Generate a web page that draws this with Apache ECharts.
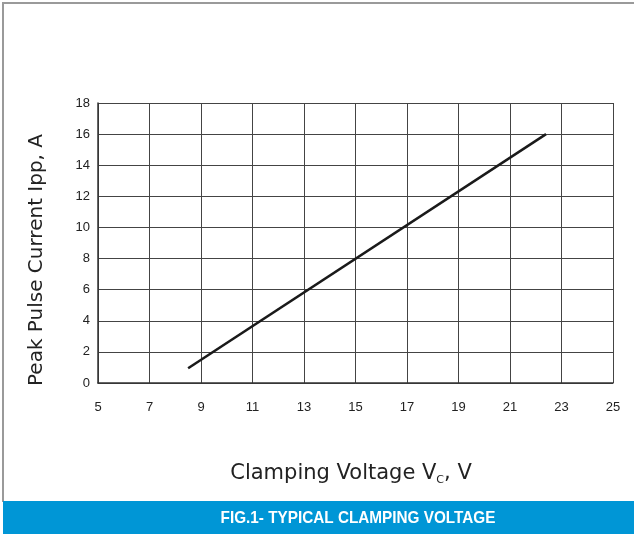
<!DOCTYPE html>
<html><head><meta charset="utf-8">
<script src="https://cdn.jsdelivr.net/npm/echarts@6/dist/echarts.min.js"></script>
<style>html,body{margin:0;padding:0;background:#fff}#c{width:634px;height:534px}</style>
</head><body><div id="c"></div>
<script>
const xTicks = [5,7,9,11,13,15,17,19,21,23,25];
const yTicks = [0,2,4,6,8,10,12,14,16,18];
const lineX = [8.5, 22.4];
const lineY = [0.95, 16];
const xTitle = 'Clamping Voltage V';
const xTitleSub = 'C';
const xTitleTail = ', V';
const yTitle = 'Peak Pulse Current Ipp, A';
const figTitle = 'FIG.1- TYPICAL CLAMPING VOLTAGE';

const chart = echarts.init(document.getElementById('c'), null, {renderer:'canvas'});
const tickFont = '"Liberation Sans Narrow", "Arial Narrow", "Liberation Sans", Arial, sans-serif';
const titleFont = '"DejaVu Sans", "Liberation Sans", Arial, sans-serif';
chart.setOption({
  animation:false,
  backgroundColor:'#fff',
  grid:{left:98, right:21, top:103, bottom:151, containLabel:false},
  xAxis:{type:'value', min:xTicks[0], max:xTicks[xTicks.length-1], interval:2,
    axisLine:{show:true, lineStyle:{color:'#333', width:1.5}}, axisTick:{show:false},
    splitLine:{show:true, lineStyle:{color:'#444', width:1}},
    axisLabel:{color:'#222', fontSize:13, fontFamily:tickFont, margin:18}
  },
  yAxis:{type:'value', min:yTicks[0], max:yTicks[yTicks.length-1], interval:2,
    axisLine:{show:true, lineStyle:{color:'#333', width:1.5}}, axisTick:{show:false},
    splitLine:{show:true, lineStyle:{color:'#444', width:1}},
    axisLabel:{color:'#222', fontSize:13, fontFamily:tickFont, margin:8}
  },
  graphic:[
    {type:'rect', shape:{x:0,y:0,width:634,height:534}, style:{fill:'#fff'}, z:-10, silent:true},
    {type:'rect', shape:{x:2,y:2,width:632,height:2}, style:{fill:'#9a9a9a'}, z:10},
    {type:'rect', shape:{x:2,y:2,width:2,height:500}, style:{fill:'#9a9a9a'}, z:10},
    {type:'rect', shape:{x:3,y:501,width:631,height:33}, style:{fill:'#0096D6'}, z:10},
    {type:'text', x:358, y:518, scaleX:0.9, z:11, style:{text:figTitle, fill:'#fff', font:'bold 17px "Liberation Sans", Arial, sans-serif', textAlign:'center', textVerticalAlign:'middle'}},
    {type:'text', x:37, y:260, rotation:Math.PI/2, z:11, style:{text:yTitle, fill:'#222', font:'20px '+titleFont, textAlign:'center', textVerticalAlign:'middle'}},
    {type:'text', x:351, y:474, z:11, style:{text:'{a|'+xTitle+'}{s|'+xTitleSub+'}{a|'+xTitleTail+'}', textAlign:'center', textVerticalAlign:'middle',
      rich:{a:{fontSize:21, fill:'#222', color:'#222', fontFamily:titleFont},
            s:{fontSize:11, fill:'#222', color:'#222', fontFamily:titleFont, verticalAlign:'bottom', padding:[12,0,0,0]}}}}
  ],
  series:[{type:'line', data:lineX.map((x,i)=>[x,lineY[i]]), symbol:'none',
    lineStyle:{color:'#1a1a1a', width:2.5}}]
});
</script></body></html>
